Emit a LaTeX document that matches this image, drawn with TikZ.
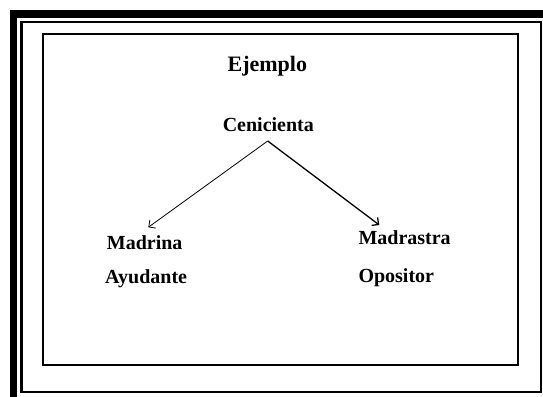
\documentclass[tikz,border=0pt]{standalone}
\usepackage{fontspec}
\setmainfont{Liberation Serif}
\usepackage{tikz}
\usetikzlibrary{arrows.meta}

\begin{document}
\begin{tikzpicture}[x=1pt,y=1pt,
  -{Straight Barb[length=5pt,width=10pt]},
  every node/.append style={inner sep=0pt}]
  \tikzstyle{word} = [font=\fontsize{20}{24}\selectfont\bfseries,color=black]
  \tikzstyle{heading} = [font=\fontsize{22}{26}\selectfont\bfseries,color=black]
  \useasboundingbox (0,0) rectangle (543,396);
  \clip (0,0) rectangle (543,396);
  % frames
  \draw[-,line width=7.5pt] (13.3,382.2) rectangle (580,-30);
  \draw[-,line width=2.7pt] (21.3,374) rectangle (541,4);
  \draw[-,line width=2pt] (43,362) rectangle (517.7,30.8);
  % texts
  \node (ejemplo) [heading,anchor=base] at (267.3,324.5) {Ejemplo};
  \node (cenicienta) [word,anchor=base] at (268.3,264.3) {Cenicienta};
  \node (madrina) [word,anchor=base west] at (106.7,146) {Madrina};
  \node (ayudante) [word,anchor=base west] at (105,112.7) {Ayudante};
  \node (madrastra) [word,anchor=base west] at (358.3,151) {Madrastra};
  \node (opositor) [word,anchor=base west] at (358.3,113.7) {Opositor};
  % arrows
  \coordinate (apex) at (267.7,255);
  \coordinate (lefttip) at (148.3,168.7);
  \coordinate (righttip) at (379.3,171);
  \draw[line width=0.8pt] (apex) -- (lefttip);
  \draw[line width=1.3pt] (apex) -- (righttip);
\end{tikzpicture}
\end{document}
